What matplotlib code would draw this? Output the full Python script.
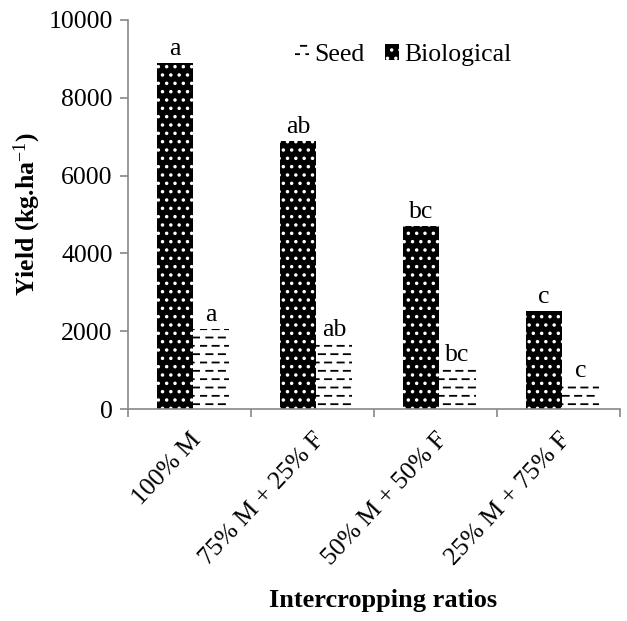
import numpy as np
import matplotlib
matplotlib.use('Agg')
import matplotlib.pyplot as plt
import matplotlib.hatch as mhatch
from matplotlib.path import Path

# data
ratios = ['100% M', '75% M + 25% F', '50% M + 50% F', '25% M + 75% F']
biological = [8900, 6900, 4700, 2530]
seed = [2060, 1670, 1030, 620]
bio_letters = ['a', 'ab', 'bc', 'c']
seed_letters = ['a', 'ab', 'bc', 'c']


# dashed horizontal hatch (staggered dashes) in place of the plain '-' lines
class DashHatch(mhatch.HatchPatternBase):
    def __init__(self, hatch, density):
        self.num_lines = int((hatch.count('-') + hatch.count('+')) * density)
        self.n_dash = 8
        self.num_vertices = self.num_lines * self.n_dash * 2

    def set_vertices_and_codes(self, vertices, codes):
        period = 1.0 / self.n_dash
        step = 1.0 / self.num_lines
        i = 0
        for r in range(self.num_lines):
            y = step * r + step / 2
            shift = 0 if r % 2 == 0 else period / 2
            for d in range(self.n_dash):
                x0 = (d * period + shift) % 1.0
                x1 = x0 + period * 0.5
                vertices[i] = [x0, y]
                vertices[i + 1] = [x1, y]
                codes[i] = Path.MOVETO
                codes[i + 1] = Path.LINETO
                i += 2


mhatch._hatch_types[0] = DashHatch

plt.rcParams['font.family'] = 'Liberation Serif'
plt.rcParams['mathtext.fontset'] = 'custom'
plt.rcParams['mathtext.rm'] = 'Liberation Serif'
plt.rcParams['mathtext.it'] = 'Liberation Serif:italic'
plt.rcParams['mathtext.bf'] = 'Liberation Serif:bold'
plt.rcParams['hatch.linewidth'] = 1.3

fs = 18.5

fig = plt.figure(figsize=(6.27, 6.21), dpi=100)
ax = fig.add_axes([0.204, 0.341, 0.785, 0.627])

x = np.arange(len(ratios))
w = 0.295
off = 0.03
b1 = ax.bar(x - w / 2 + off, biological, w, color='black', edgecolor='white',
            linewidth=0, hatch='..', label='Biological')
b2 = ax.bar(x + w / 2 + off, seed, w, color='white', edgecolor='black',
            linewidth=0, hatch='--', label='Seed')

for i in range(len(ratios)):
    ax.annotate(bio_letters[i], (x[i] - w / 2 + off, biological[i]), xytext=(0, 2),
                textcoords='offset points', ha='center', va='bottom', fontsize=fs)
    ax.annotate(seed_letters[i], (x[i] + w / 2 + off, seed[i]), xytext=(0, 2),
                textcoords='offset points', ha='center', va='bottom', fontsize=fs)

ax.set_xlim(-0.5, 3.5)
ax.set_ylim(0, 10000)
ax.set_yticks(np.arange(0, 10001, 2000))
ax.set_xticks(np.arange(-0.5, 4, 1))
ax.set_xticklabels([])
ax.set_xticks(x, minor=True)
ax.set_xticklabels(ratios, minor=True, rotation=47, ha='right', rotation_mode='anchor')
ax.tick_params(axis='x', which='minor', length=0, pad=14, labelsize=fs)
ax.tick_params(axis='x', which='major', length=6, color='#888888', width=1.2)
ax.tick_params(axis='y', length=6, color='#888888', width=1.2, labelsize=fs, pad=5)

for s in ['top', 'right']:
    ax.spines[s].set_visible(False)
for s in ['left', 'bottom']:
    ax.spines[s].set_color('#888888')
    ax.spines[s].set_linewidth(1.2)

ax.set_ylabel('Yield (kg.ha$^{\\mathrm{-1}}$)', fontsize=fs, fontweight='bold', labelpad=4)
ax.set_xlabel('Intercropping ratios', fontsize=19, fontweight='bold')
ax.xaxis.set_label_coords(0.518, -0.462)

ax.legend([b2, b1], ['Seed', 'Biological'], loc='center', bbox_to_anchor=(0.56, 0.91),
          ncol=2, frameon=False, fontsize=fs, handlelength=0.55, handleheight=0.55,
          handletextpad=0.2, columnspacing=0.8)

fig.savefig('out.png', dpi=100)
